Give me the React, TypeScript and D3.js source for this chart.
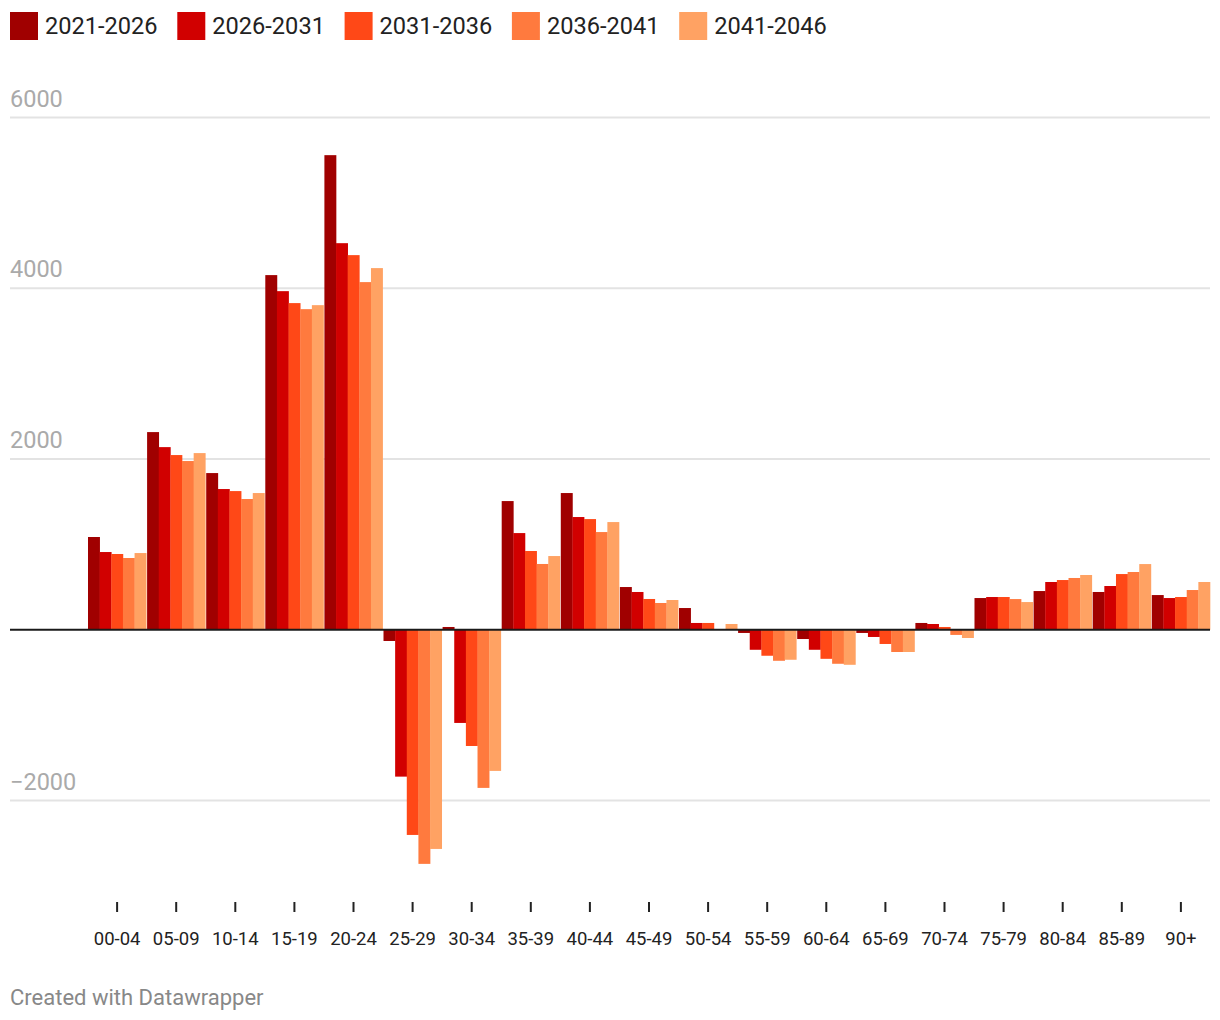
import React from "react";
import * as d3 from "d3";

const categories = ["00-04","05-09","10-14","15-19","20-24","25-29","30-34","35-39","40-44","45-49","50-54","55-59","60-64","65-69","70-74","75-79","80-84","85-89","90+"];
const seriesNames = ["2021-2026","2026-2031","2031-2036","2036-2041","2041-2046"];
const s2021 = [1087, 2316, 1836, 4155, 5560, -131, 33, 1508, 1602, 501, 255, -37, -108, -37, 80, 372, 454, 443, 407];
const s2026 = [911, 2140, 1649, 3967, 4529, -1720, -1091, 1133, 1321, 443, 80, -234, -234, -84, 68, 384, 560, 513, 372];
const s2031 = [888, 2047, 1625, 3827, 4389, -2403, -1361, 923, 1297, 361, 80, -304, -340, -166, 33, 384, 583, 653, 384];
const s2036 = [841, 1977, 1532, 3756, 4073, -2742, -1852, 771, 1145, 314, 0, -363, -398, -260, -60, 360, 607, 677, 466];
const s2041 = [899, 2070, 1602, 3803, 4237, -2567, -1653, 864, 1262, 349, 68, -351, -410, -260, -96, 325, 642, 770, 560];
const seriesValues = [s2021, s2026, s2031, s2036, s2041];
const colors = ["#a00000", "#d10000", "#ff4817", "#ff7a3e", "#ffa263"];
const yTicks = [-2000, 0, 2000, 4000, 6000];

const W = 1220;
const H = 1020;
const FONT = "Roboto, 'Noto Sans', sans-serif";

export default function App() {
  const x0 = d3.scaleBand<string>().domain(categories).range([88, 1210]).paddingInner(0.015).paddingOuter(0);
  const x1 = d3.scaleBand<string>().domain(seriesNames).range([0, x0.bandwidth()]).padding(0);
  const y = d3.scaleLinear().domain([-3000, 6000]).range([885.9, 117.6]);
  const fmt = (v: number) => (v < 0 ? "\u2212" + Math.abs(v) : String(v));

  return (
    <div style={{ position: "absolute", left: 0, top: 0, width: W, height: H, background: "#fff" }}>
      <svg width={W} height={H} style={{ display: "block", fontFamily: FONT }}>
        <rect x={0} y={0} width={W} height={H} fill="#fff" />
        {/* legend */}
        {seriesNames.map((n, i) => {
          const lx = 10 + i * 167.3;
          return (
            <g key={n}>
              <rect x={lx} y={12} width={28} height={28} fill={colors[i]} />
              <text x={lx + 35} y={34} fontSize={23.6} fill="#222">{n}</text>
            </g>
          );
        })}
        {/* gridlines */}
        {yTicks.filter((t) => t !== 0).map((t) => (
          <g key={t}>
            <line x1={10} x2={1210} y1={y(t)} y2={y(t)} stroke="#e3e3e3" strokeWidth={2} />
            <text x={10} y={y(t) - 11} fontSize={23.5} fill="#aaaaaa">{fmt(t)}</text>
          </g>
        ))}
        {/* bars */}
        {categories.map((c, ci) => (
          <g key={c} transform={`translate(${x0(c)},0)`}>
            {seriesNames.map((s, si) => {
              const v = seriesValues[si][ci];
              const yv = y(v);
              const y0 = y(0);
              return (
                <rect
                  key={s}
                  x={x1(s)}
                  y={Math.min(yv, y0)}
                  width={x1.bandwidth() + 0.3}
                  height={Math.abs(yv - y0)}
                  fill={colors[si]}
                />
              );
            })}
          </g>
        ))}
        {/* zero line */}
        <line x1={10} x2={1210} y1={y(0)} y2={y(0)} stroke="#1a1a1a" strokeWidth={2} />
        {/* x ticks & labels */}
        {categories.map((c) => {
          const cx = (x0(c) as number) + x0.bandwidth() / 2;
          return (
            <g key={c}>
              <line x1={cx} x2={cx} y1={902} y2={912} stroke="#222" strokeWidth={2} />
              <text x={cx} y={944.5} fontSize={18.5} textAnchor="middle" fill="#222">{c}</text>
            </g>
          );
        })}
        <text x={10} y={1005} fontSize={22} fill="#888888">Created with Datawrapper</text>
      </svg>
    </div>
  );
}
